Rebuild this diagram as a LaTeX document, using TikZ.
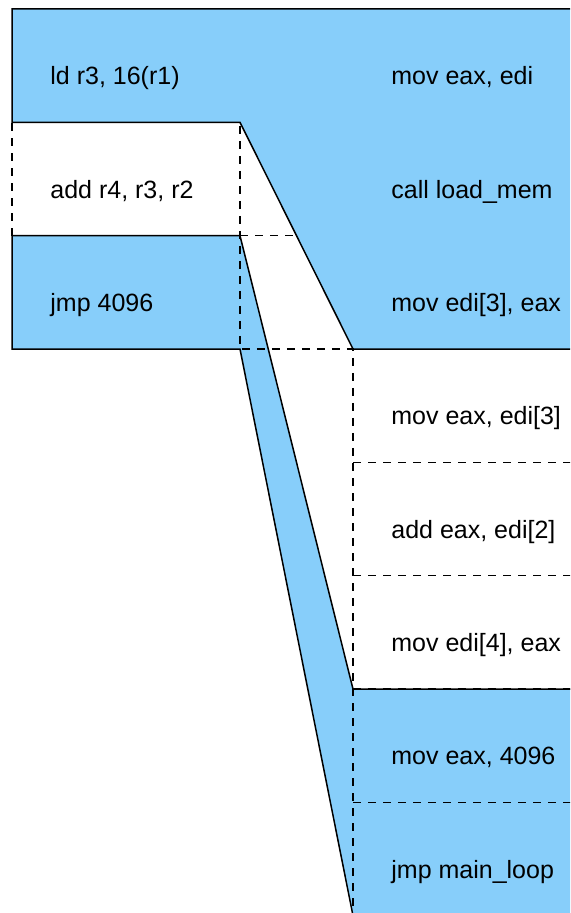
\documentclass[tikz,border=0pt]{standalone}
\usepackage{fontspec}
\setmainfont{Liberation Sans}
\usepackage{tikz}
\usetikzlibrary{positioning, calc}
\definecolor{mapblue}{HTML}{87CEFA}

\begin{document}
\begin{tikzpicture}[
  cell/.style={minimum width=114pt, minimum height=56.67pt, inner sep=0pt, outer sep=0pt},
  txt/.style={font=\fontsize{12.5pt}{15pt}\selectfont, inner sep=0pt, text height=19pt, text depth=0pt},
  blk/.style={fill=mapblue, draw=black, line width=0.75pt},
  grid/.style={draw=black, line width=0.6pt, dash pattern=on 4pt off 3.5pt}
]
  \path[use as bounding box, clip] (0,0) rectangle (285pt,-456.5pt);

  % left column
  \node[cell, anchor=north west] (L1) at (6pt,-4.5pt) {};
  \node[cell, below=0pt of L1] (L2) {};
  \node[cell, below=0pt of L2] (L3) {};

  % right column
  \node[cell, right=56.5pt of L1] (R1) {};
  \node[cell, below=0pt of R1] (R2) {};
  \node[cell, below=0pt of R2] (R3) {};
  \node[cell, below=0pt of R3] (R4) {};
  \node[cell, below=0pt of R4] (R5) {};
  \node[cell, below=0pt of R5] (R6) {};
  \node[cell, below=0pt of R6] (R7) {};
  \node[cell, below=0pt of R7] (R8) {};

  \coordinate (cut) at ($(L1.south east)!.5!(R3.south west)$);

  % mapped blocks
  \draw[blk] (L1.north west) -- (R1.north east) -- (R3.south east) -- (R3.south west)
    -- (L1.south east) -- (L1.south west) -- cycle;
  \draw[blk] (L3.north west) -- (L3.north east) -- (R6.south west) -- (R6.south east)
    -- (R8.south east) -- (R8.south west) -- (L3.south east) -- (L3.south west) -- cycle;

  % cell borders
  \draw[grid] (L2.south west) -- (L2.north west) -- (L2.north east) -- (L3.south east)
    -- (R4.north west) -- (R8.south west);
  \draw[grid] (L2.south east) -- (cut);
  \foreach \r in {R4,R5,R6,R7}
    \draw[grid] (\r.south west) -- (\r.south east);

  % instructions
  \node[txt, right=19pt of L1.west] (tL1) {ld r3, 16(r1)};
  \node[txt, right=19pt of L2.west] (tL2) {add r4, r3, r2};
  \node[txt, right=19pt of L3.west] (tL3) {jmp 4096};

  \node[txt, right=19pt of R1.west] (tR1) {mov eax, edi};
  \node[txt, right=19pt of R2.west] (tR2) {call load\_mem};
  \node[txt, right=19pt of R3.west] (tR3) {mov edi[3], eax};
  \node[txt, right=19pt of R4.west] (tR4) {mov eax, edi[3]};
  \node[txt, right=19pt of R5.west] (tR5) {add eax, edi[2]};
  \node[txt, right=19pt of R6.west] (tR6) {mov edi[4], eax};
  \node[txt, right=19pt of R7.west] (tR7) {mov eax, 4096};
  \node[txt, right=19pt of R8.west] (tR8) {jmp main\_loop};
\end{tikzpicture}
\end{document}
